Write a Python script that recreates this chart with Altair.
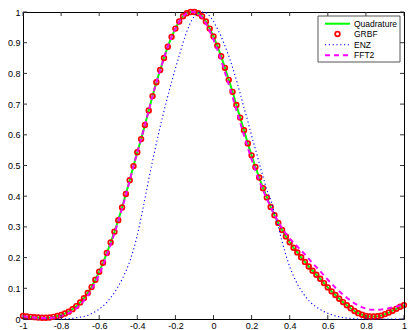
import altair as alt
import pandas as pd

FONT = "Liberation Sans"

# sample grid (x positions of the GRBF nodes / curve samples)
x_grid = [round(-1 + 0.02 * i, 2) for i in range(101)]

series_names = ["Quadrature", "GRBF", "ENZ", "FFT2"]

quadrature = [
    0.010, 0.008, 0.007, 0.006, 0.005, 0.004, 0.004, 0.005, 0.007, 0.010,
    0.013, 0.018, 0.024, 0.032, 0.042, 0.054, 0.068, 0.085, 0.104, 0.128,
    0.154, 0.183, 0.215, 0.249, 0.284, 0.322, 0.363, 0.407, 0.452, 0.498,
    0.543, 0.586, 0.632, 0.679, 0.726, 0.771, 0.811, 0.850, 0.887, 0.919,
    0.946, 0.969, 0.986, 0.996, 1.000, 1.000, 0.996, 0.986, 0.969, 0.946,
    0.920, 0.890, 0.856, 0.818, 0.779, 0.740, 0.697, 0.656, 0.615, 0.572,
    0.533, 0.495, 0.461, 0.426, 0.396, 0.365, 0.338, 0.313, 0.290, 0.269,
    0.250, 0.232, 0.217, 0.201, 0.186, 0.171, 0.157, 0.144, 0.131, 0.117,
    0.103, 0.090, 0.078, 0.066, 0.055, 0.045, 0.035, 0.026, 0.019, 0.014,
    0.010, 0.008, 0.008, 0.009, 0.011, 0.016, 0.021, 0.027, 0.033, 0.040,
    0.045,
]

grbf = list(quadrature)

enz = [
    0.000, 0.000, 0.000, 0.000, 0.000, 0.000, 0.000, 0.000, 0.000, 0.000,
    0.000, 0.001, 0.001, 0.002, 0.004, 0.006, 0.008, 0.012, 0.018, 0.024,
    0.032, 0.042, 0.054, 0.069, 0.086, 0.106, 0.129, 0.155, 0.186, 0.225,
    0.272, 0.330, 0.392, 0.455, 0.515, 0.572, 0.626, 0.677, 0.726, 0.772,
    0.816, 0.858, 0.900, 0.937, 0.967, 0.987, 0.998, 1.000, 0.998, 0.987,
    0.970, 0.946, 0.921, 0.890, 0.857, 0.820, 0.779, 0.735, 0.688, 0.645,
    0.597, 0.553, 0.508, 0.463, 0.420, 0.388, 0.346, 0.300, 0.252, 0.208,
    0.170, 0.140, 0.114, 0.093, 0.075, 0.060, 0.048, 0.039, 0.031, 0.024,
    0.019, 0.014, 0.010, 0.007, 0.005, 0.003, 0.002, 0.001, 0.000, 0.000,
    0.000, 0.000, 0.000, 0.000, 0.000, 0.000, 0.000, 0.000, 0.000, 0.000,
    0.000,
]

fft2 = [
    0.009, 0.007, 0.006, 0.005, 0.004, 0.003, 0.003, 0.004, 0.005, 0.007,
    0.010, 0.014, 0.019, 0.026, 0.035, 0.046, 0.060, 0.076, 0.096, 0.119,
    0.145, 0.175, 0.207, 0.242, 0.279, 0.318, 0.360, 0.404, 0.451, 0.498,
    0.543, 0.586, 0.632, 0.679, 0.726, 0.771, 0.811, 0.850, 0.887, 0.919,
    0.946, 0.969, 0.986, 0.996, 1.000, 1.000, 0.994, 0.982, 0.963, 0.938,
    0.910, 0.878, 0.843, 0.804, 0.764, 0.724, 0.681, 0.640, 0.599, 0.558,
    0.520, 0.484, 0.451, 0.419, 0.392, 0.364, 0.339, 0.316, 0.296, 0.278,
    0.262, 0.249, 0.236, 0.223, 0.210, 0.196, 0.182, 0.169, 0.156, 0.142,
    0.128, 0.115, 0.102, 0.090, 0.079, 0.069, 0.060, 0.051, 0.044, 0.038,
    0.034, 0.031, 0.030, 0.030, 0.031, 0.033, 0.035, 0.038, 0.041, 0.044,
    0.047,
]

x_ticks = [-1, -0.8, -0.6, -0.4, -0.2, 0, 0.2, 0.4, 0.6, 0.8, 1]
y_ticks = [0, 0.1, 0.2, 0.3, 0.4, 0.5, 0.6, 0.7, 0.8, 0.9, 1]

W, H = 381, 307

df_q = pd.DataFrame({"x": x_grid, "y": quadrature})
df_g = pd.DataFrame({"x": x_grid, "y": grbf})
df_e = pd.DataFrame({"x": x_grid, "y": enz})
df_f = pd.DataFrame({"x": x_grid, "y": fft2})
df_xt = pd.DataFrame({"x": x_ticks})
df_yt = pd.DataFrame({"y": y_ticks})
one = pd.DataFrame({"k": [0]})

xs = alt.Scale(domain=[-1, 1], nice=False, zero=False)
ys = alt.Scale(domain=[0, 1], nice=False, zero=False)

axis_x = alt.Axis(values=x_ticks, labelExpr="'' + datum.value", ticks=False,
                  domain=False, grid=False, title=None, labelFont=FONT,
                  labelFontSize=9, labelColor="black", labelPadding=2,
                  labelFlush=False, labelOverlap=False)
axis_y = alt.Axis(values=y_ticks, labelExpr="'' + datum.value", ticks=False,
                  domain=False, grid=False, title=None, labelFont=FONT,
                  labelFontSize=9, labelColor="black", labelPadding=3,
                  labelFlush=False, labelOverlap=False)

X = alt.X("x:Q", scale=xs, axis=axis_x)
Y = alt.Y("y:Q", scale=ys, axis=axis_y)

quad_line = alt.Chart(df_q).mark_line(color="#00ff00", strokeWidth=2).encode(x=X, y=Y)
grbf_pts = alt.Chart(df_g).mark_point(shape="circle", filled=False, color="#ff0000",
                                      size=22, strokeWidth=1.7, opacity=1).encode(x=X, y=Y)
enz_line = alt.Chart(df_e).mark_line(color="#0000ff", strokeWidth=1.1,
                                     strokeDash=[1.2, 2.6]).encode(x=X, y=Y)
fft_line = alt.Chart(df_f).mark_line(color="#ff00ff", strokeWidth=2,
                                     strokeDash=[5, 4]).encode(x=X, y=Y)

TICK = 4
tick_color = "#333333"
t_left = alt.Chart(df_yt).mark_rule(color=tick_color, strokeWidth=1).encode(
    y=Y, x=alt.value(0), x2=alt.value(TICK))
t_right = alt.Chart(df_yt).mark_rule(color=tick_color, strokeWidth=1).encode(
    y=Y, x=alt.value(W - TICK), x2=alt.value(W))
t_bottom = alt.Chart(df_xt).mark_rule(color=tick_color, strokeWidth=1).encode(
    x=X, y=alt.value(H - TICK), y2=alt.value(H))
t_top = alt.Chart(df_xt).mark_rule(color=tick_color, strokeWidth=1).encode(
    x=X, y=alt.value(0), y2=alt.value(TICK))
right_edge = alt.Chart(one).mark_rule(color="#000000", strokeWidth=1).encode(
    x=alt.value(W + 0.5), y=alt.value(0), y2=alt.value(H))

# legend (drawn manually, MATLAB style)
lx0, lx1 = W - 86, W - 4
box = alt.Chart(one).mark_rect(fill="white", stroke="#555555", strokeWidth=1).encode(
    x=alt.value(lx0), x2=alt.value(lx1), y=alt.value(4), y2=alt.value(50))
row_y = [11.7, 22.0, 32.7, 43.3]
sx0, sx1, sxc, tx = W - 79, W - 54, W - 66.5, W - 50
leg_q = alt.Chart(one).mark_rule(color="#00ff00", strokeWidth=2).encode(
    x=alt.value(sx0), x2=alt.value(sx1), y=alt.value(row_y[0]))
leg_g = alt.Chart(one).mark_point(shape="circle", filled=False, color="#ff0000",
                                  size=22, strokeWidth=1.7, opacity=1).encode(
    x=alt.value(sxc), y=alt.value(row_y[1]))
leg_e = alt.Chart(one).mark_rule(color="#0000ff", strokeWidth=1.1,
                                 strokeDash=[1.2, 2.6]).encode(
    x=alt.value(sx0), x2=alt.value(sx1), y=alt.value(row_y[2]))
leg_f = alt.Chart(one).mark_rule(color="#ff00ff", strokeWidth=2,
                                 strokeDash=[5, 4]).encode(
    x=alt.value(sx0), x2=alt.value(sx1), y=alt.value(row_y[3]))
leg_texts = [
    alt.Chart(one).mark_text(text=name, font=FONT, fontSize=8.5, align="left",
                             baseline="middle", color="black").encode(
        x=alt.value(tx), y=alt.value(ry))
    for name, ry in zip(series_names, row_y)
]

chart = alt.layer(
    quad_line, grbf_pts, enz_line, fft_line,
    t_left, t_right, t_bottom, t_top, right_edge,
    box, leg_q, leg_g, leg_e, leg_f, *leg_texts,
).properties(
    width=W, height=H,
    padding={"left": 15, "top": 4, "right": 3, "bottom": 11},
    autosize=alt.AutoSizeParams(type="none"),
    background="white",
).configure_view(stroke="#000000", strokeWidth=1)

chart.save("out.html", embed_options={"renderer": "svg", "actions": False})
